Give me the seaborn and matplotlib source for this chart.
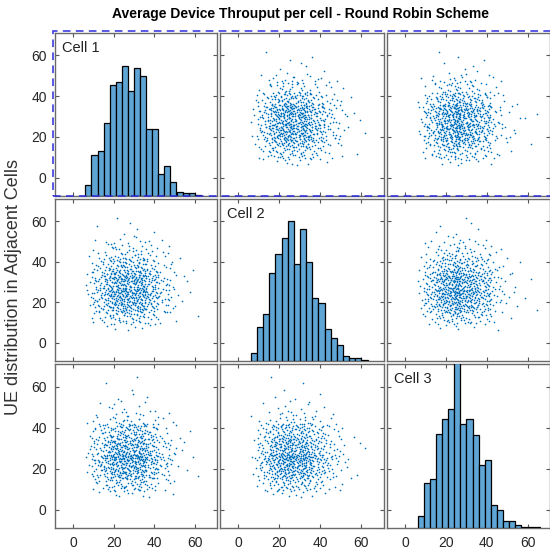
import numpy as np
import seaborn as sns
import matplotlib.pyplot as plt
from matplotlib.patches import Rectangle

# bin counts (bins of width 3 starting at 6)
cell1_counts = [8, 30, 33, 54, 82, 84, 96, 77, 94, 88, 49, 49, 16, 22, 10, 3, 2, 2, 1]
cell2_counts = [6, 25, 35, 65, 79, 91, 104, 72, 98, 73, 47, 43, 24, 17, 12, 4, 2, 2, 1]
cell3_counts = [9, 33, 36, 69, 80, 87, 121, 76, 80, 68, 46, 50, 17, 13, 5, 5, 2, 1, 1, 1]
bin_start = 6
bin_width = 3
cell_names = ["Cell 1", "Cell 2", "Cell 3"]
ticks = [0, 20, 40, 60]
lims = (-9, 71)

sns.set_style("ticks")
plt.rcParams["font.family"] = ["Liberation Sans", "DejaVu Sans"]


def expand(counts):
    # spread each bin's samples evenly across the bin
    vals = []
    for i, c in enumerate(counts):
        lo = bin_start + i * bin_width
        vals += [lo + bin_width * (k + 0.5) / c for k in range(c)]
    return np.array(vals)


def vdc(n, base):
    q, denom = 0.0, 1.0
    while n:
        denom *= base
        n, r = divmod(n, base)
        q += r / denom
    return q


def pair_order(values, base):
    # deterministic low-discrepancy ordering to pair the cells' samples
    n = len(values)
    rank = np.argsort(np.argsort([vdc(k + 1, base) for k in range(n)]))
    return values[rank]


counts = [cell1_counts, cell2_counts, cell3_counts]
cells = [
    pair_order(expand(cell1_counts), 5),
    pair_order(expand(cell2_counts), 2),
    pair_order(expand(cell3_counts), 3),
]

W, H = 550, 557
fig = plt.figure(figsize=(W / 100, H / 100), dpi=100)
cols = [(55, 217), (220, 384), (387, 550)]
rows = [(33, 196), (199, 361), (364, 528)]

for i in range(3):
    for j in range(3):
        x0, x1 = cols[j]
        y0, y1 = rows[i]
        ax = fig.add_axes([x0 / W, 1 - y1 / H, (x1 - x0) / W, (y1 - y0) / H])
        if i == j:
            hax = ax.twinx()
            edges = bin_start + bin_width * np.arange(len(counts[i]) + 1)
            sns.histplot(cells[i], bins=edges, ax=hax, color="#5fa6d6",
                         edgecolor="black", linewidth=0.9, alpha=1)
            hax.set_ylim(0, 120)
            hax.set_yticks([])
            hax.set_ylabel("")
            for s in hax.spines.values():
                s.set_visible(False)
            ax.text(0.045, 0.95, cell_names[i], transform=ax.transAxes, ha="left", va="top",
                    fontsize=10.5, color="#222222")
        else:
            sns.scatterplot(x=cells[j], y=cells[i], ax=ax, s=1.4, color="#0072BD", linewidth=0)
        ax.set_xlim(lims)
        ax.set_ylim(lims)
        ax.set_xticks(ticks)
        ax.set_yticks(ticks)
        ax.tick_params(direction="in", top=True, right=True, length=3, width=0.8, color="#555555",
                       labelsize=10, labelcolor="#262626",
                       labelbottom=(i == 2), labelleft=(j == 0), pad=6)
        for s in ax.spines.values():
            s.set_color("#6a6a6a")
            s.set_linewidth(1.0)

fig.text(300 / W, 1 - 14 / H, "Average Device Throuput per cell - Round Robin Scheme",
         ha="center", va="center", fontsize=10, fontweight="bold", color="black")
fig.text(14 / W, 1 - 287 / H, "UE distribution in Adjacent Cells", rotation=90,
         ha="center", va="center", fontsize=13, color="#333333")

sel = Rectangle((52.7 / W, 1 - 196.5 / H), 520 / W, (196.5 - 30.7) / H, transform=fig.transFigure,
                fill=False, edgecolor="#2b2bdc", linewidth=1.1, linestyle=(0, (5, 3.5)), clip_on=False)
fig.add_artist(sel)

fig.savefig("out.png", dpi=100)
